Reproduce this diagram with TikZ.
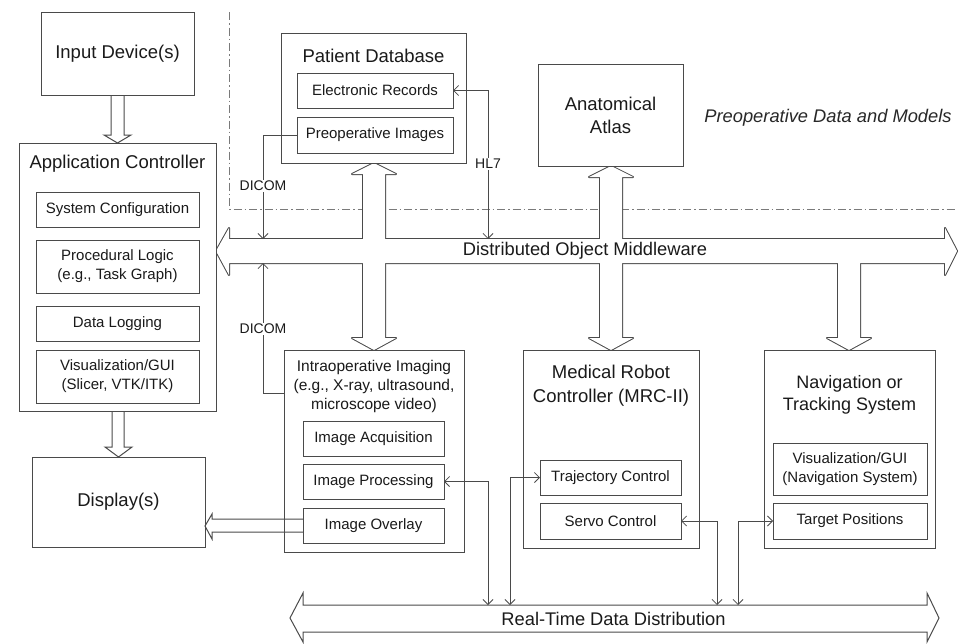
\documentclass[tikz,border=0pt]{standalone}
\usepackage{fontspec}
\setmainfont{Liberation Sans}
\usetikzlibrary{arrows.meta}
\definecolor{ln}{HTML}{4A4A4A}
\definecolor{tx}{HTML}{1A1A1A}
\definecolor{dd}{HTML}{7A7A7A}
\tikzset{
  box/.style={draw=ln, line width=1pt, fill=white, inner sep=0pt, outer sep=0pt, text=tx},
  bx/.style 2 args={box, minimum width=#1pt, minimum height=#2pt},
  ttl/.style={text=tx, font=\fontsize{18.5}{23}\selectfont, align=center, inner sep=0pt},
  inr/.style={font=\fontsize{15}{19}\selectfont, align=center},
  lbl/.style={text=tx, font=\fontsize{14}{16}\selectfont, fill=white, inner sep=1.5pt},
  tipb/.tip={Straight Barb[length=5pt,width=10pt,line width=0.85pt]},
  conn/.style={draw=ln, line width=0.85pt, -tipb},
  conn2/.style={draw=ln, line width=0.85pt, tipb-tipb},
  hollow/.style={draw=ln, line width=1pt, line join=miter},
  ustroke/.style={draw=ln, line width=2pt, line join=round},
}
\begin{document}
\begin{tikzpicture}[x=1pt,y=-1pt]
\useasboundingbox (0,0) rectangle (965,643);
\fill[white] (0,0) rectangle (965,643);

% dash-dot region border
\draw[dd, line width=1pt, dash pattern=on 8pt off 3pt on 1.5pt off 3pt] (229,12) -- (229,209) -- (957,209);

% Distributed Object Middleware bus with vertical hollow arrows (union outline)
\def\busA{(216,251) -- (229,228) -- (229,239) -- (945,239) -- (945,228) -- (957,251) -- (945,275) -- (945,263) -- (229,263) -- (229,275) -- cycle}
\def\vA{(374,163) -- (396,174) -- (385,174) -- (385,338) -- (396,338) -- (374,350) -- (352,338) -- (363,338) -- (363,174) -- (352,174) -- cycle}
\def\vB{(611,166) -- (633,177) -- (622,177) -- (622,338) -- (633,338) -- (611,350) -- (589,338) -- (600,338) -- (600,177) -- (589,177) -- cycle}
\def\vC{(838,251) -- (860,251) -- (860,338) -- (871,338) -- (849,350) -- (827,338) -- (838,338) -- cycle}
\path[ustroke] \busA;
\path[ustroke] \vA;
\path[ustroke] \vB;
\path[ustroke] \vC;
\fill[white] \busA;
\fill[white] \vA;
\fill[white] \vB;
\fill[white] \vC;

% Real-Time Data Distribution bus
\draw[hollow, fill=white] (290,618) -- (303,593) -- (303,605) -- (927,605) -- (927,593) -- (939,618) -- (927,642) -- (927,632) -- (303,632) -- (303,642) -- cycle;

% boxes
\node[bx={153}{83}, ttl] (inp) at (117.5,53.5) {Input Device(s)};
\node[bx={197}{268}] (app) at (117.5,277) {};
\node[ttl] (appT) at (117.5,164) {Application Controller};
\node[bx={163}{35}, inr] (syscfg) at (117.5,209.5) {System Configuration};
\node[bx={163}{53}, inr] (proc) at (117.5,266.5) {Procedural Logic\\(e.g., Task Graph)};
\node[bx={163}{35}, inr] (dlog) at (117.5,323.5) {Data Logging};
\node[bx={163}{53}, inr] (vis) at (117.5,376.5) {Visualization/GUI\\(Slicer, VTK/ITK)};
\node[bx={173}{90}, ttl] (disp) at (118.5,502) {Display(s)};

\node[bx={185}{130}] (pdb) at (373.5,98) {};
\node[ttl] (pdbT) at (373.5,56) {Patient Database};
\node[bx={156}{35}, inr] (erec) at (375,90.5) {Electronic Records};
\node[bx={156}{36}, inr] (preimg) at (375,135) {Preoperative Images};

\node[bx={145}{102}, ttl] (atlas) at (610.5,115) {Anatomical\\Atlas};

\node[bx={180}{202}] (intra) at (374,451) {};
\node[ttl, font=\fontsize{15.5}{19}\selectfont] (intraT) at (374,386) {Intraoperative Imaging\\(e.g., X-ray, ultrasound,\\microscope video)};
\node[bx={141}{35}, inr] (iacq) at (373.5,438.5) {Image Acquisition};
\node[bx={141}{35}, inr] (iproc) at (373.5,481.5) {Image Processing};
\node[bx={141}{35}, inr] (iover) at (373.5,525.5) {Image Overlay};

\node[bx={176}{198}] (mrc) at (611,449) {};
\node[ttl, font=\fontsize{18.5}{24}\selectfont] (mrcT) at (611,386) {Medical Robot\\Controller (MRC-II)};
\node[bx={141}{35}, inr] (traj) at (610.5,477.5) {Trajectory Control};
\node[bx={141}{36}, inr] (servo) at (610.5,521) {Servo Control};

\node[bx={171}{198}] (nav) at (849.5,449) {};
\node[ttl, font=\fontsize{18}{22}\selectfont] (navT) at (849.5,395) {Navigation or\\Tracking System};
\node[bx={154}{52}, inr] (nvis) at (850,469) {Visualization/GUI\\(Navigation System)};
\node[bx={154}{36}, inr] (tpos) at (850,521) {Target Positions};

% small hollow arrows
\draw[hollow] (111,95) -- (111,135) -- (104,135) -- (117.5,143) -- (131,135) -- (124,135) -- (124,95);
\draw[hollow] (112,411) -- (112,447) -- (105,447) -- (118.5,457) -- (132,447) -- (124,447) -- (124,411);
\draw[hollow] (iover.west |- 0,519) -- (212,519) -- (212,514) -- (205,526) -- (212,539) -- (212,532) -- (iover.west |- 0,532);

% thin connectors
\coordinate (hl7e) at (488,239);
\coordinate (dc1e) at (263,239);
\coordinate (dc2e) at (263,263);
\coordinate (ipe) at (488,605);
\coordinate (tce) at (510,605);
\coordinate (sce) at (717,605);
\coordinate (tpe) at (738,605);
\draw[conn2] (erec.east) -| (hl7e);
\draw[conn] (preimg.west) -| (dc1e);
\draw[conn] ([yshift=58pt]intra.west) -| (dc2e);
\draw[conn2] (iproc.east) -| (ipe);
\draw[conn2] (traj.west) -| (tce);
\draw[conn2] (servo.east) -| (sce);
\draw[conn2] (tpos.west) -| (tpe);
\node[lbl] (hl7) at (488,164) {HL7};
\node[lbl] (dicom1) at (263,186) {DICOM};
\node[lbl] (dicom2) at (263,329) {DICOM};

% bus labels
\node[ttl, font=\fontsize{18.3}{22}\selectfont] (domT) at (585,251) {Distributed Object Middleware};
\node[ttl, font=\fontsize{18.3}{22}\selectfont] (rtT) at (613.5,618.5) {Real-Time Data Distribution};
\node[ttl, font=\fontsize{18.3}{22}\itshape, text={rgb,255:red,40;green,40;blue,40}] (preop) at (828,118) {Preoperative Data and Models};
\end{tikzpicture}
\end{document}
